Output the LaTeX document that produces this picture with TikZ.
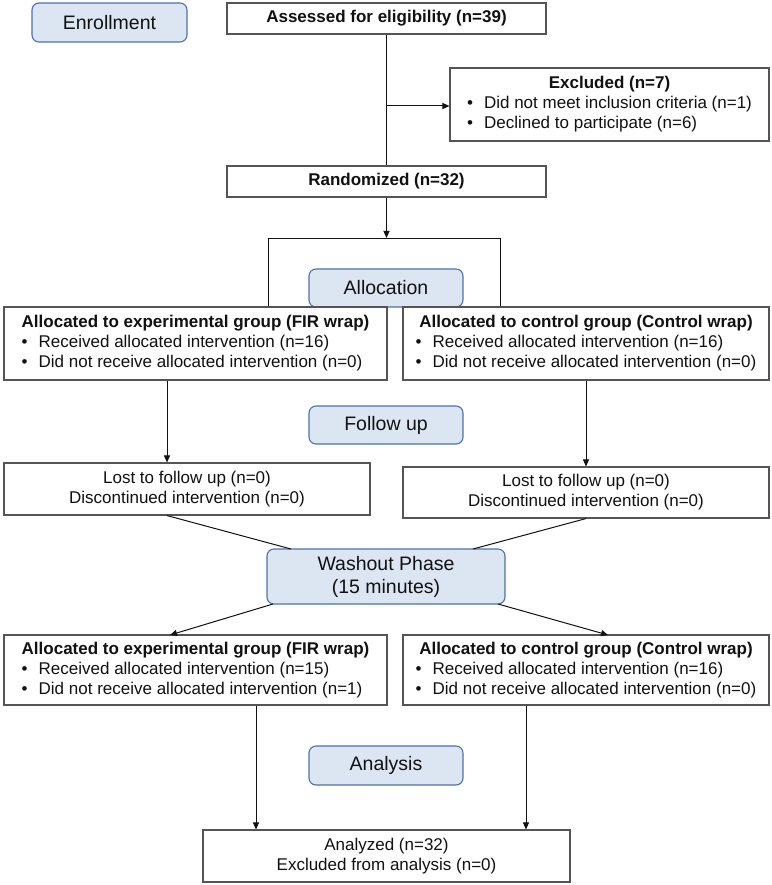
\documentclass[tikz,border=0pt]{standalone}
\usepackage{fontspec}
\setmainfont{Liberation Sans}
\usepackage{tikz}
\usepackage{xcolor}
\usetikzlibrary{arrows.meta,positioning,calc}
\definecolor{phasefill}{HTML}{DCE6F3}
\definecolor{phaseline}{HTML}{4D72A8}
\definecolor{boxline}  {HTML}{555555}
\definecolor{ink}      {HTML}{111111}
\newcommand{\bul}{\makebox[1em][l]{\textbullet}}
\newcommand{\bodyfont}{\fontsize{17}{20}\selectfont}
\tikzset{
  phasebox/.style ={draw=phaseline, fill=phasefill, line width=1.1pt,
                    rounded corners=7pt, align=center, inner sep=0pt,
                    font=\fontsize{19.5}{23}\selectfont, text=ink},
  infobox/.style  ={draw=boxline, fill=white, line width=1.1pt,
                    align=center, inner sep=0pt, font=\bodyfont, text=ink},
  link/.style     ={line width=1pt, draw=ink},
  linkarr/.style  ={-{Triangle[length=7pt,width=6pt]}, line width=1pt, draw=ink},
}

\begin{document}
\begin{tikzpicture}[x=1pt,y=-1pt]
    \useasboundingbox (0,0) rectangle (771,885);

    % phase labels
    \node[phasebox,minimum width=155pt,minimum height=39pt] (enroll)   at (109.5,22.5) {Enrollment};
    \node[phasebox,minimum width=154pt,minimum height=38pt] (alloc)    at (386,288)    {Allocation};
    \node[phasebox,minimum width=154pt,minimum height=38pt] (follow)   at (386,425)    {Follow up};
    \node[phasebox,minimum width=238pt,minimum height=55pt] (wash)     at (386,576.5)  {Washout Phase\\(15 minutes)};
    \node[phasebox,minimum width=154pt,minimum height=39pt] (analysis) at (386,765.5)  {Analysis};

    % enrollment
    \node[infobox,minimum width=319pt,minimum height=31pt] (assess) at (386.5,18.5)
      {\bfseries Assessed for eligibility (n=39)};
    \node[infobox,minimum width=319pt,minimum height=73pt] (excl)   at (609.5,104.5)
      {\begin{tabular}{@{}l@{}}
        \multicolumn{1}{@{}c@{}}{\bfseries Excluded (n=7)}\\
        \bul Did not meet inclusion criteria (n=1)\\
        \bul Declined to participate (n=6)
       \end{tabular}};
    \node[infobox,minimum width=319pt,minimum height=31pt] (rand)   at (386.5,181.5)
      {\bfseries Randomized (n=32)};

    % first period
    \node[infobox,minimum width=383pt,minimum height=73pt] (allocA) at (195.5,343.5)
      {\begin{tabular}{@{}l@{}}
        \multicolumn{1}{@{}c@{}}{\bfseries Allocated to experimental group (FIR wrap)}\\
        \bul Received allocated intervention (n=16)\\
        \bul Did not receive allocated intervention (n=0)
       \end{tabular}};
    \node[infobox,minimum width=366pt,minimum height=73pt] (allocB) at (586,343.5)
      {\begin{tabular}{@{}l@{}}
        \multicolumn{1}{@{}c@{}}{\bfseries Allocated to control group (Control wrap)}\\
        \bul Received allocated intervention (n=16)\\
        \bul Did not receive allocated intervention (n=0)
       \end{tabular}};
    \node[infobox,minimum width=366pt,minimum height=52pt] (lostA)  at (187,489)
      {Lost to follow up (n=0)\\Discontinued intervention (n=0)};
    \node[infobox,minimum width=366pt,minimum height=51pt] (lostB)  at (586,492.5)
      {Lost to follow up (n=0)\\Discontinued intervention (n=0)};

    % second period
    \node[infobox,minimum width=383pt,minimum height=70pt] (allocC) at (195.5,670)
      {\begin{tabular}{@{}l@{}}
        \multicolumn{1}{@{}c@{}}{\bfseries Allocated to experimental group (FIR wrap)}\\
        \bul Received allocated intervention (n=15)\\
        \bul Did not receive allocated intervention (n=1)
       \end{tabular}};
    \node[infobox,minimum width=366pt,minimum height=70pt] (allocD) at (586,670)
      {\begin{tabular}{@{}l@{}}
        \multicolumn{1}{@{}c@{}}{\bfseries Allocated to control group (Control wrap)}\\
        \bul Received allocated intervention (n=16)\\
        \bul Did not receive allocated intervention (n=0)
       \end{tabular}};
    \node[infobox,minimum width=367pt,minimum height=52pt] (analyzed) at (386.5,856)
      {Analyzed (n=32)\\Excluded from analysis (n=0)};

    % helper points
    \coordinate (split) at (386.5,106);
    \coordinate (brk)   at (386.5,238);
    \coordinate (brkL)  at (268,238);
    \coordinate (brkR)  at (500,238);
    \coordinate (colA)  at (167,0);
    \coordinate (colC)  at (256,0);
    \coordinate (colD)  at (526,0);
    \coordinate (washNL) at (291,549);
    \coordinate (washNR) at (473,549);
    \coordinate (washSL) at (273,604);
    \coordinate (washSR) at (498,604);
    \coordinate (allocCN) at (170,635);
    \coordinate (allocDN) at (608,635);

    % connectors
    \draw[link]    (assess.south) -- (rand.north);
    \draw[linkarr] (split) -- (split -| excl.west);
    \draw[linkarr] (rand.south) -- (brk);
    \draw[link]    (allocA.north -| brkL) -- (brkL) -- (brkR) -- (allocB.north -| brkR);
    \draw[linkarr] (allocA.south -| colA) -- (lostA.north -| colA);
    \draw[linkarr] (allocB.south) -- (lostB.north);
    \draw[link]    (lostA.south -| colA) -- (washNL);
    \draw[link]    (lostB.south) -- (washNR);
    \draw[linkarr] (washSL) -- (allocCN);
    \draw[linkarr] (washSR) -- (allocDN);
    \draw[linkarr] (allocC.south -| colC) -- (analyzed.north -| colC);
    \draw[linkarr] (allocD.south -| colD) -- (analyzed.north -| colD);
  \end{tikzpicture}
\end{document}
